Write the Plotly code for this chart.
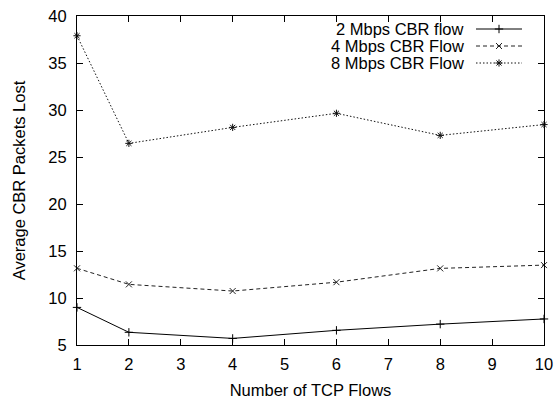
import plotly.graph_objects as go

# ---- data ----
tcp_flows = [1, 2, 4, 6, 8, 10]
cbr_2mbps = [9.0, 6.35, 5.7, 6.56, 7.22, 7.77]
cbr_4mbps = [13.16, 11.45, 10.74, 11.68, 13.15, 13.5]
cbr_8mbps = [37.9, 26.45, 28.15, 29.65, 27.3, 28.45]
series_names = ["2 Mbps CBR flow", "4 Mbps CBR Flow", "8 Mbps CBR Flow"]
x_ticks = [1, 2, 3, 4, 5, 6, 7, 8, 9, 10]
y_ticks = [5, 10, 15, 20, 25, 30, 35, 40]

FONT = "Liberation Sans, Arial, Helvetica, sans-serif"
FS = 16.5
W, H = 556, 401
ML, MR, MT, MB = 77, 12, 16, 56

styles = [
    dict(dash="solid", symbol="cross-thin-open", color="#000000"),
    dict(dash="4px,3px", symbol="x-thin-open", color="#222222"),
    dict(dash="1.5px,2px", symbol="asterisk-open", color="#111111"),
]
data = [cbr_2mbps, cbr_4mbps, cbr_8mbps]
MS = 6

fig = go.Figure()
for name, ys, st in zip(series_names, data, styles):
    fig.add_trace(go.Scatter(
        x=tcp_flows, y=ys, name=name, mode="lines+markers",
        line=dict(color=st["color"], width=1, dash=st["dash"]),
        marker=dict(symbol=st["symbol"], size=MS, color=st["color"],
                    line=dict(color=st["color"], width=1)),
        showlegend=False, cliponaxis=False,
    ))

# custom gnuplot-style legend (text right-aligned, sample on the right)
pw = W - ML - MR
ph = H - MT - MB
def px(x):
    return (x - ML) / pw
def py(y):
    return (H - MB - y) / ph

rows_y = [29, 46, 63]
for name, st, ry in zip(series_names, styles, rows_y):
    fig.add_annotation(x=px(466), y=py(ry), xref="paper", yref="paper",
                       text=name, showarrow=False, xanchor="right",
                       yanchor="middle",
                       font=dict(family=FONT, size=FS, color="#000"))
    fig.add_trace(go.Scatter(
        x=[px(476), px(499), px(522)], y=[py(ry)] * 3,
        xaxis="x2", yaxis="y2", mode="lines",
        line=dict(color=st["color"], width=1, dash=st["dash"]),
        showlegend=False, hoverinfo="skip",
    ))
    fig.add_trace(go.Scatter(
        x=[px(499)], y=[py(ry)], xaxis="x2", yaxis="y2", mode="markers",
        marker=dict(symbol=st["symbol"], size=MS, color=st["color"],
                    line=dict(color=st["color"], width=1)),
        showlegend=False, hoverinfo="skip",
    ))

axis_common = dict(
    showline=True, linecolor="#000", linewidth=1, mirror="ticks",
    ticks="inside", ticklen=6, tickwidth=1, tickcolor="#000",
    showgrid=False, zeroline=False, automargin=False,
    tickfont=dict(family=FONT, size=FS, color="#000"),
)

fig.update_layout(
    width=W, height=H,
    margin=dict(l=ML, r=MR, t=MT, b=MB),
    paper_bgcolor="white", plot_bgcolor="white",
    font=dict(family=FONT, size=FS, color="#000"),
    xaxis=dict(range=[1, 10], tickvals=x_ticks, ticktext=[str(v) for v in x_ticks],
               ticklabelstandoff=4,
               title=dict(text="Number of TCP Flows", standoff=12,
                          font=dict(family=FONT, size=FS)),
               **axis_common),
    yaxis=dict(range=[5, 40], tickvals=y_ticks, ticklabelstandoff=6,
               title=dict(text="Average CBR Packets Lost", standoff=18,
                          font=dict(family=FONT, size=FS)),
               **axis_common),
    xaxis2=dict(overlaying="x", range=[0, 1], visible=False, fixedrange=True),
    yaxis2=dict(overlaying="y", range=[0, 1], visible=False, fixedrange=True),
    showlegend=False,
    hovermode=False,
)

fig.write_html(
    "out.html",
    config={"displayModeBar": False, "staticPlot": True},
    post_script="document.body.style.margin='0';document.body.style.overflow='hidden';",
)
